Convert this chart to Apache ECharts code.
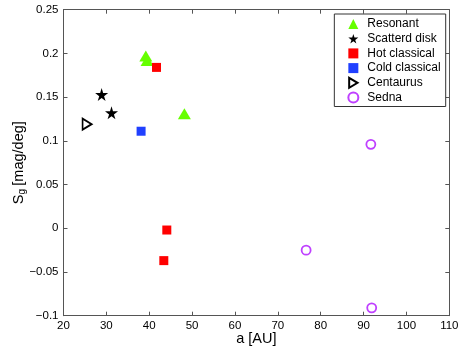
<!DOCTYPE html>
<html>
<head>
<meta charset="utf-8">
<script src="https://cdn.jsdelivr.net/npm/echarts@6/dist/echarts.min.js"></script>
<style>
  html, body { margin: 0; padding: 0; background: #fff; }
  #chart { width: 463px; height: 349px; }
</style>
</head>
<body>
<div id="chart"></div>
<script>
// points: [a (AU), S_g (mag/deg)]
const resonant = [[39.2, 0.197], [39.5, 0.192], [48.2, 0.131]]
const scattered = [[28.9, 0.153], [31.2, 0.132]]
const hotClassical = [[41.7, 0.184], [44.1, -0.002], [43.4, -0.037]]
const coldClassical = [[38.1, 0.111]]
const centaurus = [[25.5, 0.119]]
const sedna = [[91.7, 0.096], [76.6, -0.025], [91.9, -0.091]]

const xTicks = [20, 30, 40, 50, 60, 70, 80, 90, 100, 110]
const yTickLabels = ['-0.1', '-0.05', '0', '0.05', '0.1', '0.15', '0.2', '0.25']

const starPath = 'path://M50,0 L61,35 L98,35 L68,57 L79,91 L50,70 L21,91 L32,57 L2,35 L39,35 Z'
const rightTri = 'path://M0,0 L10,6 L0,12 Z'

const font = 'Liberation Sans, Arial, Helvetica, sans-serif'
const axisColor = '#555'

const chart = echarts.init(document.getElementById('chart'))

const tickStyle = {
  show: true,
  inside: true,
  length: 4,
  lineStyle: { color: axisColor }
}

chart.setOption({
  backgroundColor: '#fff',
  animation: false,
  textStyle: { fontFamily: font },
  grid: {
    left: 63.5,
    right: 13.7,
    top: 9.7,
    bottom: 33.3,
    containLabel: false,
    outerBoundsMode: 'none'
  },
  legend: {
    orient: 'vertical',
    right: 17.3,
    top: 14,
    padding: [4, 5, 3, 13],
    itemGap: 2.7,
    itemWidth: 10,
    itemHeight: 10,
    borderColor: '#333',
    borderWidth: 1,
    borderRadius: 0,
    backgroundColor: '#fff',
    textStyle: { fontSize: 12, lineHeight: 12, color: '#000', fontFamily: font, padding: [0, 0, 0, 4] },
    data: ['Resonant', 'Scatterd disk', 'Hot classical', 'Cold classical', 'Centaurus', 'Sedna']
  },
  xAxis: [{
    type: 'value',
    min: 20,
    max: 110,
    interval: 10,
    name: 'a [AU]',
    nameLocation: 'middle',
    nameMoveOverlap: false,
    nameGap: 16,
    nameTextStyle: { fontSize: 14.5, color: '#000' },
    axisLine: { show: true, onZero: false, lineStyle: { color: axisColor } },
    axisTick: tickStyle,
    axisLabel: {
      color: '#000',
      fontSize: 11.5,
      margin: 4,
      formatter: v => xTicks.includes(v) ? String(v) : ''
    },
    splitLine: { show: false }
  }, {
    type: 'value',
    position: 'top',
    min: 20,
    max: 110,
    interval: 10,
    axisLine: { show: true, onZero: false, lineStyle: { color: axisColor } },
    axisTick: tickStyle,
    axisLabel: { show: false },
    splitLine: { show: false }
  }],
  yAxis: [{
    type: 'value',
    min: -0.1,
    max: 0.25,
    interval: 0.05,
    name: '{s|S}{g|g} {s|[mag/deg]}',
    nameLocation: 'middle',
    nameRotate: 90,
    nameMoveOverlap: false,
    nameGap: 37,
    nameTextStyle: {
      color: '#000',
      rich: {
        s: { fontSize: 14.5, color: '#000', fontFamily: font },
        g: { fontSize: 10, color: '#000', fontFamily: font, padding: [0, 0, -7, 0] }
      }
    },
    axisLine: { show: true, onZero: false, lineStyle: { color: axisColor } },
    axisTick: tickStyle,
    axisLabel: {
      color: '#000',
      fontSize: 11.5,
      margin: 5,
      formatter: (v, i) => (yTickLabels[i] || '').replace('-', '\u2212')
    },
    splitLine: { show: false }
  }, {
    type: 'value',
    position: 'right',
    min: -0.1,
    max: 0.25,
    interval: 0.05,
    axisLine: { show: true, onZero: false, lineStyle: { color: axisColor } },
    axisTick: tickStyle,
    axisLabel: { show: false },
    splitLine: { show: false }
  }],
  series: [{
    name: 'Resonant',
    type: 'scatter',
    symbol: 'triangle',
    symbolSize: [13, 11],
    itemStyle: { color: '#66ff00', opacity: 1 },
    data: resonant
  }, {
    name: 'Scatterd disk',
    type: 'scatter',
    symbol: starPath,
    symbolSize: 13,
    itemStyle: { color: '#000', opacity: 1 },
    data: scattered
  }, {
    name: 'Hot classical',
    type: 'scatter',
    symbol: 'rect',
    symbolSize: 9,
    itemStyle: { color: '#ff0000', opacity: 1 },
    data: hotClassical
  }, {
    name: 'Cold classical',
    type: 'scatter',
    symbol: 'rect',
    symbolSize: 9,
    itemStyle: { color: '#2040ff', opacity: 1 },
    data: coldClassical
  }, {
    name: 'Centaurus',
    type: 'scatter',
    symbol: rightTri,
    symbolSize: [9, 11],
    itemStyle: { color: '#fff', borderColor: '#000', borderWidth: 1.8, opacity: 1 },
    data: centaurus
  }, {
    name: 'Sedna',
    type: 'scatter',
    symbol: 'circle',
    symbolSize: 9,
    itemStyle: { color: '#fff', borderColor: '#bf40ff', borderWidth: 1.8, opacity: 1 },
    data: sedna
  }]
})
</script>
</body>
</html>
